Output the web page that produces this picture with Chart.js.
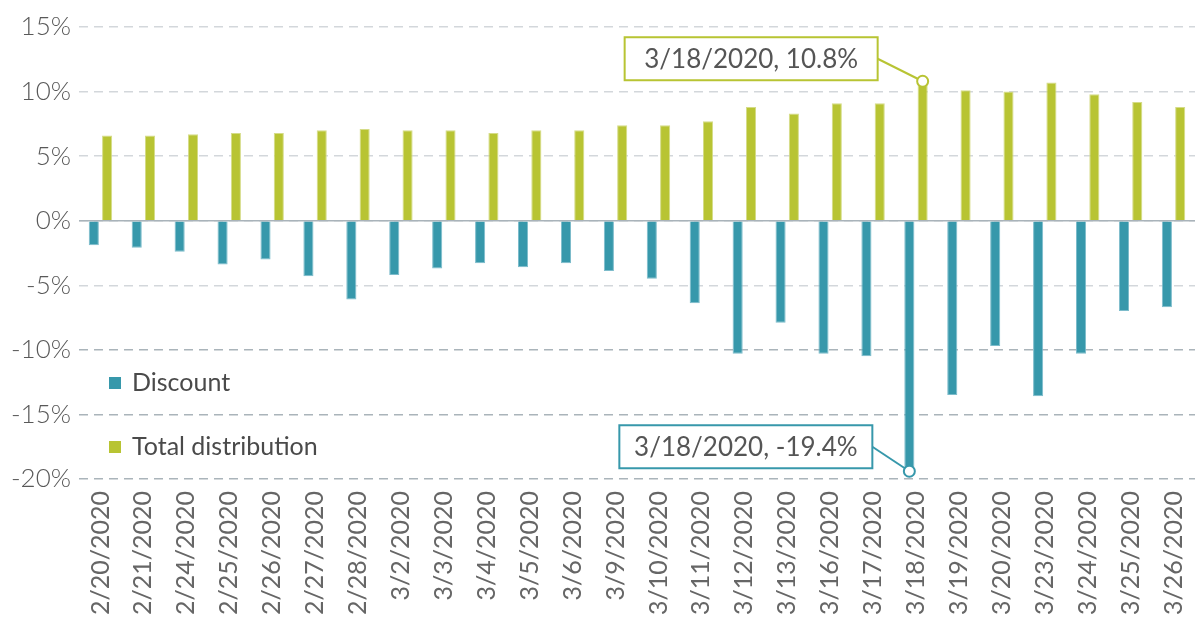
<!DOCTYPE html>
<html>
<head>
<meta charset="utf-8">
<script src="https://cdn.jsdelivr.net/npm/chart.js@4"></script>
<style>
  html, body { margin: 0; padding: 0; background: #fff; }
  #wrap { width: 1200px; height: 636px; }
</style>
</head>
<body>
<div id="wrap"><canvas id="distChart"></canvas></div>
<script>
const dates = ["2/20/2020", "2/21/2020", "2/24/2020", "2/25/2020", "2/26/2020", "2/27/2020", "2/28/2020",
  "3/2/2020", "3/3/2020", "3/4/2020", "3/5/2020", "3/6/2020", "3/9/2020", "3/10/2020", "3/11/2020",
  "3/12/2020", "3/13/2020", "3/16/2020", "3/17/2020", "3/18/2020", "3/19/2020", "3/20/2020",
  "3/23/2020", "3/24/2020", "3/25/2020", "3/26/2020"];
const discount = [-1.9, -2.1, -2.4, -3.4, -3.0, -4.3, -6.1, -4.2, -3.7, -3.3, -3.6, -3.3, -3.9, -4.5, -6.4,
  -10.3, -7.9, -10.3, -10.5, -19.4, -13.5, -9.7, -13.6, -10.3, -7.0, -6.7];
const totalDistribution = [6.6, 6.6, 6.7, 6.8, 6.8, 7.0, 7.1, 7.0, 7.0, 6.8, 7.0, 7.0, 7.4, 7.4, 7.7,
  8.8, 8.3, 9.1, 9.1, 10.8, 10.1, 10.0, 10.7, 9.8, 9.2, 8.8];
const seriesNames = ["Discount", "Total distribution"];
const yTicks = [-20, -15, -10, -5, 0, 5, 10, 15];
// callouts: which dataset / which date
const callouts = [
  { dataset: 1, index: 19, text: "3/18/2020, 10.8%" },
  { dataset: 0, index: 19, text: "3/18/2020, -19.4%" },
];

const TEAL = "#3798ab";
const GREEN = "#b8c433";
const TEXT = "#595959";

// draws the solid zero line, the legend and the callout boxes
const extras = {
  id: "extras",
  beforeDatasetsDraw(chart) {
    const { ctx, chartArea, scales } = chart;
    const y0 = scales.y.getPixelForValue(0);
    ctx.save();
    ctx.strokeStyle = "#a9b3ba";
    ctx.lineWidth = 1.5;
    ctx.beginPath();
    ctx.moveTo(chartArea.left, y0);
    ctx.lineTo(chartArea.right, y0);
    ctx.stroke();
    ctx.restore();
  },
  afterDraw(chart) {
    const { ctx, chartArea } = chart;
    ctx.save();

    // legend
    ctx.font = "25px Lato";
    ctx.textBaseline = "alphabetic";
    ctx.textAlign = "left";
    chart.data.datasets.forEach((ds, i) => {
      const top = 377 + i * 64;
      ctx.fillStyle = ds.backgroundColor;
      ctx.fillRect(chartArea.left + 30, top, 12, 12);
      ctx.fillStyle = "#4a4a4a";
      ctx.fillText(ds.label, chartArea.left + 53, top + 14);
    });

    // callouts
    callouts.forEach((c) => {
      const bar = chart.getDatasetMeta(c.dataset).data[c.index];
      const color = chart.data.datasets[c.dataset].backgroundColor;
      const px = bar.x, py = bar.y;
      const w = 253, h = 43;
      const right = c.dataset === 1 ? px - 45 : px - 37;
      const top = py - 44 - (c.dataset === 0 ? 2 : 0);
      const left = right - w;

      ctx.strokeStyle = color;
      ctx.lineWidth = 2;
      ctx.beginPath();
      ctx.moveTo(right, top + h / 2);
      ctx.lineTo(px, py);
      ctx.stroke();

      ctx.fillStyle = "#fff";
      ctx.fillRect(left, top, w, h);
      ctx.strokeRect(left, top, w, h);

      ctx.fillStyle = "#555";
      ctx.font = "400 26px Lato";
      ctx.textAlign = "center";
      ctx.textBaseline = "middle";
      ctx.fillText(c.text, left + w / 2, top + h / 2 + 1);

      ctx.beginPath();
      ctx.arc(px, py, 5.5, 0, Math.PI * 2);
      ctx.fillStyle = "#fff";
      ctx.fill();
      ctx.stroke();
    });
    ctx.restore();
  },
};

const ctx = document.getElementById("distChart").getContext("2d");
new Chart(ctx, {
  type: "bar",
  data: {
    labels: dates,
    datasets: [
      {
        label: seriesNames[0],
        data: discount,
        backgroundColor: TEAL,
        borderColor: "#7dbccb",
        borderWidth: 1,
      },
      {
        label: seriesNames[1],
        data: totalDistribution,
        backgroundColor: GREEN,
        borderColor: "#d5dc88",
        borderWidth: 1,
      },
    ],
  },
  options: {
    responsive: true,
    maintainAspectRatio: false,
    animation: false,
    layout: { padding: { top: 27, right: 5, left: 0, bottom: 0 } },
    plugins: {
      legend: { display: false },
      tooltip: { enabled: false },
    },
    datasets: {
      bar: { categoryPercentage: 0.62, barPercentage: 0.76 },
    },
    scales: {
      x: {
        grid: { display: false, drawTicks: false },
        border: { display: false },
        ticks: {
          autoSkip: false,
          maxRotation: 90,
          minRotation: 90,
          padding: 12,
          color: "#666",
          font: { family: "Lato", size: 25, weight: 400 },
        },
        afterFit(axis) {
          axis.height = 157;
          axis.paddingLeft = 0;
          axis.paddingRight = 0;
        },
      },
      y: {
        min: -20,
        max: 15,
        afterBuildTicks(axis) { axis.ticks = yTicks.map((v) => ({ value: v })); },
        grid: {
          drawTicks: false,
          lineWidth: 1.5,
          color: (c) => (c.tick && c.tick.value <= -10 ? "#aab4ba" : "#d3d7db"),
        },
        border: { display: false, dash: [9, 6] },
        ticks: {
          padding: 8,
          color: TEXT,
          font: { family: "Lato", size: 26, weight: 300 },
          callback: (v) => v + "%",
        },
        afterFit(axis) { axis.width = 79; },
      },
    },
  },
  plugins: [extras],
});
</script>
</body>
</html>
